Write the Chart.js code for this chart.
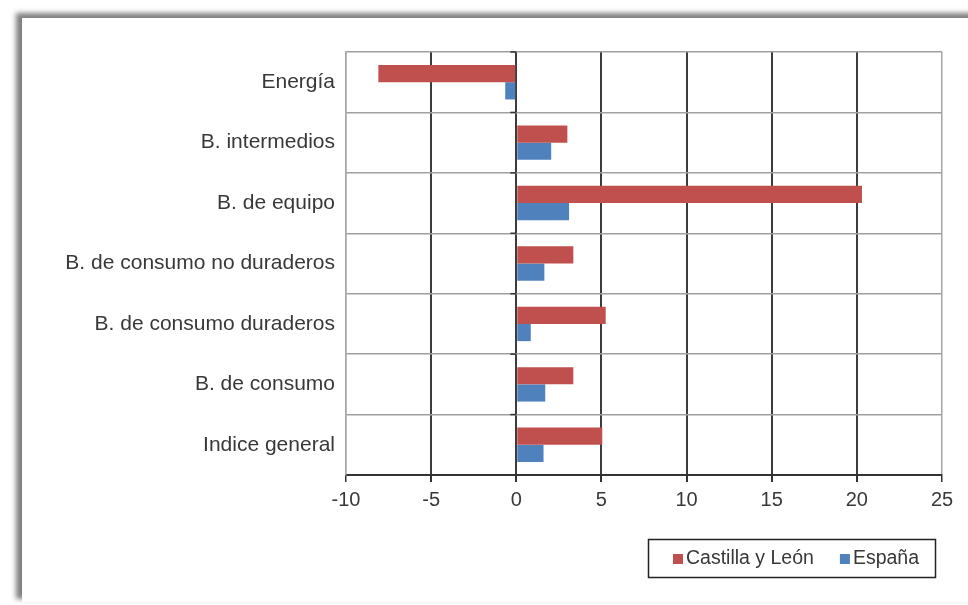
<!DOCTYPE html>
<html lang="es">
<head>
  <meta charset="UTF-8">
  <title>Índices de producción industrial</title>
  <script src="https://cdn.jsdelivr.net/npm/chart.js"></script>
  <style>
    html, body { margin: 0; padding: 0; background: #fff; overflow: hidden; }
    #frame {
      position: absolute; left: 22px; top: 18px; width: 990px; height: 584px;
      background: #fff;
      box-shadow: -5px -4px 5px 1px rgba(0,0,0,0.5);
    }
    #grafico { position: absolute; left: 0; top: 0; }
  </style>
</head>
<body>
  <div id="frame"></div>
  <canvas id="grafico" width="968" height="605"></canvas>

  <script>
    const categorias = ["Energía", "B. intermedios", "B. de equipo", "B. de consumo no duraderos",
                        "B. de consumo duraderos", "B. de consumo", "Indice general"];
    const castillaLeon = [-8.1, 3.0, 20.3, 3.35, 5.25, 3.35, 5.05];
    const espana = [-0.65, 2.05, 3.1, 1.65, 0.85, 1.7, 1.6];
    const ejeX = { min: -10, max: 25, paso: 5 };

    const texto = "#383838";
    const familia = "'Liberation Sans', Arial, sans-serif";

    // leyenda con recuadro, como en Excel
    const leyendaCaja = {
      id: "leyendaCaja",
      afterDraw(chart) {
        const ctx = chart.ctx;
        ctx.save();
        ctx.strokeStyle = "#222";
        ctx.lineWidth = 1.5;
        ctx.strokeRect(648.5, 539.5, 287, 38);
        ctx.font = "19.5px " + familia;
        ctx.textBaseline = "middle";
        let x = 673;
        const cy = 559;
        chart.data.datasets.forEach(ds => {
          ctx.fillStyle = ds.backgroundColor;
          ctx.fillRect(x, cy - 5, 10, 10);
          ctx.fillStyle = texto;
          ctx.fillText(ds.label, x + 13, cy);
          x += 13 + ctx.measureText(ds.label).width + 26;
        });
        ctx.restore();
      }
    };

    // pequeñas marcas del eje de categorías sobre el cero
    const marcasCero = {
      id: "marcasCero",
      afterDraw(chart) {
        const xs = chart.scales.x, ys = chart.scales.y;
        const x0 = xs.getPixelForValue(0);
        const paso = (ys.bottom - ys.top) / categorias.length;
        const ctx = chart.ctx;
        ctx.save();
        ctx.strokeStyle = "#333";
        ctx.lineWidth = 1.5;
        for (let i = 0; i <= categorias.length; i++) {
          const y = ys.top + i * paso;
          ctx.beginPath();
          ctx.moveTo(x0 - 6, y);
          ctx.lineTo(x0, y);
          ctx.stroke();
        }
        ctx.restore();
      }
    };

    new Chart(document.getElementById("grafico"), {
      type: "bar",
      data: {
        labels: categorias,
        datasets: [
          { label: "Castilla y León", data: castillaLeon, backgroundColor: "#C0504D" },
          { label: "España", data: espana, backgroundColor: "#4F81BD" }
        ]
      },
      options: {
        indexAxis: "y",
        responsive: false,
        animation: false,
        layout: { padding: { left: 0, top: 52, right: 26, bottom: 0 } },
        datasets: { bar: { barPercentage: 1, categoryPercentage: 0.57 } },
        plugins: { legend: { display: false }, tooltip: { enabled: false } },
        scales: {
          x: {
            min: ejeX.min, max: ejeX.max,
            ticks: { stepSize: ejeX.paso, color: texto, font: { family: familia, size: 20 }, padding: 6 },
            grid: {
              color: c => (c.tick && (c.tick.value === ejeX.min || c.tick.value === ejeX.max)) ? "#a6a6a6" : "#3c3c3c",
              lineWidth: c => (c.tick && (c.tick.value === ejeX.min || c.tick.value === ejeX.max)) ? 1.5 : 2,
              tickColor: "#333",
              tickLength: 7
            },
            border: { color: "#333", width: 2 },
            afterFit: s => { s.height = 130; }
          },
          y: {
            ticks: { color: texto, font: { family: familia, size: 21 }, padding: 11 },
            grid: { color: "#a0a0a0", lineWidth: 1.5, drawTicks: false },
            border: { color: "#a6a6a6", width: 1.5 },
            afterFit: s => { s.width = 346; }
          }
        }
      },
      plugins: [leyendaCaja, marcasCero]
    });
  </script>
</body>
</html>
